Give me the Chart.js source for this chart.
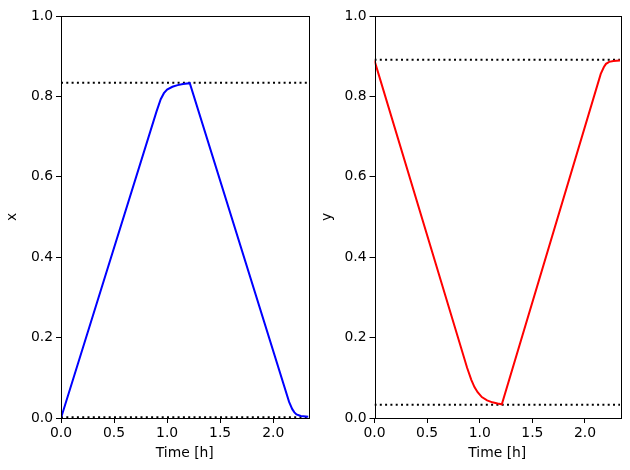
<!DOCTYPE html>
<html>
<head>
<meta charset="utf-8">
<script src="https://cdn.jsdelivr.net/npm/chart.js@4.4.0/dist/chart.umd.min.js"></script>
<style>
  body { margin: 0; background: #fff; }
  .panel { position: absolute; top: 0; height: 470px; }
  #left { left: 0; width: 315px; }
  #right { left: 315px; width: 315px; }
</style>
</head>
<body>
<div class="panel" id="left"><canvas id="grafica-x"></canvas></div>
<div class="panel" id="right"><canvas id="grafica-y"></canvas></div>
<script>
// datos
const tiempoMax = 2.333;
const xTicks = [0.0, 0.5, 1.0, 1.5, 2.0];
const yTicks = [0.0, 0.2, 0.4, 0.6, 0.8, 1.0];

const tiempoX = [0, 0.90, 0.94, 0.97, 1.00, 1.05, 1.10, 1.15, 1.214, 2.15, 2.18, 2.20, 2.22, 2.26, 2.333];
const valoresX = [0, 0.762, 0.793, 0.808, 0.817, 0.824, 0.828, 0.831, 0.833, 0.040, 0.022, 0.014, 0.009, 0.005, 0.003];
const limitesX = [0.834, 0.002];

const tiempoY = [0, 0.88, 0.92, 0.95, 0.98, 1.02, 1.07, 1.12, 1.17, 1.21, 2.15, 2.18, 2.20, 2.23, 2.27, 2.333];
const valoresY = [0.889, 0.125, 0.095, 0.077, 0.064, 0.052, 0.044, 0.039, 0.036, 0.034, 0.856, 0.873, 0.881, 0.886, 0.888, 0.889];
const limitesY = [0.891, 0.033];

const fuente = { family: 'DejaVu Sans', size: 13.9 };

const marco = {
    id: 'marco',
    afterDraw(chart) {
        const a = chart.chartArea;
        const ctx = chart.ctx;
        ctx.save();
        ctx.strokeStyle = '#000';
        ctx.lineWidth = 1;
        ctx.strokeRect(Math.round(a.left) + 0.5, Math.round(a.top) + 0.5, Math.round(a.right - a.left), Math.round(a.bottom - a.top));
        ctx.restore();
    }
};

function crearGrafica(id, tiempos, valores, limites, color, etiqueta, anchoEje, padDer) {
    const puntos = tiempos.map((t, i) => ({ x: t, y: valores[i] }));
    const datasets = [{
        data: puntos,
        borderColor: color,
        borderWidth: 2,
        pointRadius: 0,
        tension: 0
    }];
    limites.forEach(v => {
        datasets.push({
            data: [{ x: 0, y: v }, { x: tiempoMax, y: v }],
            borderColor: '#000',
            borderWidth: 2,
            borderDash: [2, 3.3],
            borderCapStyle: 'butt',
            pointRadius: 0
        });
    });

    const ctx = document.getElementById(id).getContext('2d');
    return new Chart(ctx, {
        type: 'line',
        data: { datasets },
        plugins: [marco],
        options: {
            responsive: true,
            maintainAspectRatio: false,
            animation: false,
            layout: { padding: { top: 16, right: padDer, left: 0, bottom: 0 } },
            plugins: { legend: { display: false }, tooltip: { enabled: false } },
            scales: {
                x: {
                    type: 'linear',
                    min: 0,
                    max: tiempoMax,
                    afterBuildTicks: scale => { scale.ticks = xTicks.map(v => ({ value: v })); },
                    afterFit: scale => { scale.height = 52; },
                    border: { display: false },
                    grid: { drawOnChartArea: false, drawTicks: true, tickLength: 5, color: '#000' },
                    ticks: { color: '#000', font: fuente, padding: 2, maxRotation: 0,
                        callback: v => v.toFixed(1) },
                    title: { display: true, text: 'Time [h]', color: '#000', font: fuente,
                        padding: { top: 2, bottom: 8 } }
                },
                y: {
                    type: 'linear',
                    min: 0,
                    max: 1,
                    afterBuildTicks: scale => { scale.ticks = yTicks.map(v => ({ value: v })); },
                    afterFit: scale => { scale.width = anchoEje; },
                    border: { display: false },
                    grid: { drawOnChartArea: false, drawTicks: true, tickLength: 5, color: '#000' },
                    ticks: { color: '#000', font: fuente, padding: 3,
                        callback: v => v.toFixed(1) },
                    title: { display: true, text: etiqueta, color: '#000', font: fuente,
                        padding: { top: 4, bottom: 4 } }
                }
            }
        }
    });
}

crearGrafica('grafica-x', tiempoX, valoresX, limitesX, '#0000ff', 'x', 61, 6.5);
crearGrafica('grafica-y', tiempoY, valoresY, limitesY, '#ff0000', 'y', 59.5, 10);
</script>
</body>
</html>
